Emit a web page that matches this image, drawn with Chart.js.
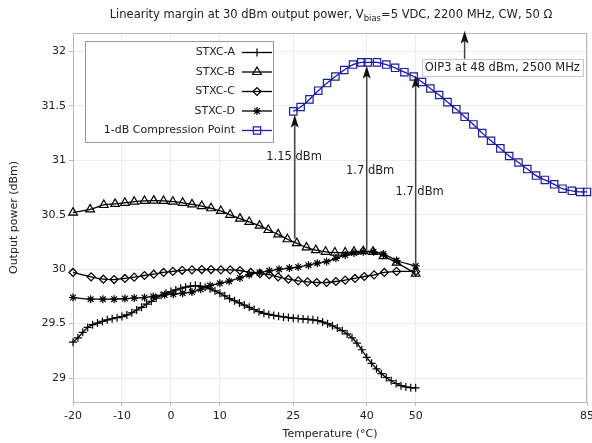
<!DOCTYPE html>
<html>
<head>
<meta charset="utf-8">
<script src="https://cdn.jsdelivr.net/npm/chart.js@4/dist/chart.umd.min.js"></script>
<style>
  html, body { margin: 0; padding: 0; background: #fff; }
</style>
</head>
<body>
<canvas id="chart" width="592" height="443"></canvas>
<script>
// --- Data ---
const xTicks = [-20, -10, 0, 10, 25, 40, 50, 85];
const yTicks = [29, 29.5, 30, 30.5, 31, 31.5, 32];

const tempA = [-20, -19, -18, -17, -16, -15, -14, -13, -12, -11, -10, -9, -8, -7, -6, -5, -4, -3, -2, -1,
    0, 1, 2, 3, 4, 5, 6, 7, 8, 9, 10, 11, 12, 13, 14, 15, 16, 17, 18, 19,
    20, 21, 22, 23, 24, 25, 26, 27, 28, 29, 30, 31, 32, 33, 34, 35, 36, 37, 38, 39,
    40, 41, 42, 43, 44, 45, 46, 47, 48, 49, 50];
const stxcA = [29.33, 29.37, 29.42, 29.465, 29.49, 29.505, 29.52, 29.535, 29.545, 29.555, 29.565, 29.58, 29.6, 29.625, 29.65, 29.68, 29.705, 29.735, 29.76, 29.78,
    29.795, 29.81, 29.825, 29.835, 29.845, 29.85, 29.845, 29.835, 29.82, 29.8, 29.78, 29.755, 29.73, 29.71, 29.69, 29.67, 29.65, 29.63, 29.61, 29.595,
    29.585, 29.575, 29.568, 29.562, 29.556, 29.55, 29.547, 29.543, 29.539, 29.535, 29.528, 29.515, 29.5, 29.48, 29.46, 29.435, 29.405, 29.37, 29.32, 29.26,
    29.19, 29.135, 29.085, 29.04, 29.005, 28.975, 28.95, 28.93, 28.918, 28.912, 28.91];

const tempB = [-20, -16.5, -13.7, -11.4, -9.4, -7.5, -5.4, -3.5, -1.5, 0.4, 2.4, 4.3, 6.3, 8.2, 10.2, 12.1, 14.1,
    16, 18.1, 19.9, 21.9, 23.8, 25.7, 27.7, 29.6, 31.6, 33.5, 35.6, 37.4, 39.3, 41.3, 43.4, 46.1, 50];
const stxcB = [30.52, 30.55, 30.59, 30.6, 30.61, 30.62, 30.627, 30.63, 30.627, 30.62, 30.61, 30.596, 30.58, 30.56, 30.535, 30.5, 30.465,
    30.434, 30.4, 30.36, 30.32, 30.275, 30.24, 30.2, 30.175, 30.16, 30.153, 30.153, 30.16, 30.165, 30.16, 30.12, 30.06, 29.96];

const tempC = [-20, -16.3, -13.8, -11.6, -9.4, -7.5, -5.4, -3.5, -1.5, 0.4, 2.3, 4.3, 6.3, 8.2, 10.2, 12.1, 14.1,
    16.3, 18.2, 20.1, 21.9, 24, 26, 27.9, 29.8, 31.8, 33.7, 35.6, 37.6, 39.5, 41.5, 43.6, 46.1, 50];
const stxcC = [29.97, 29.93, 29.908, 29.905, 29.915, 29.927, 29.942, 29.954, 29.97, 29.98, 29.99, 29.994, 29.997, 29.997, 29.994, 29.994, 29.988,
    29.97, 29.96, 29.95, 29.93, 29.908, 29.893, 29.884, 29.878, 29.878, 29.887, 29.9, 29.915, 29.933, 29.948, 29.97, 29.98, 29.98];

const tempD = [-20, -16.4, -13.9, -11.6, -9.4, -7.5, -5.4, -3.6, -1.3, 0.5, 2.4, 4.3, 6.1, 8, 10, 11.9, 14.1,
    16, 18.1, 20.1, 22.1, 24.2, 26, 28.1, 29.9, 31.8, 33.7, 35.6, 37.4, 39.3, 41.4, 43.4, 46.1, 50];
const stxcD = [29.74, 29.725, 29.725, 29.725, 29.73, 29.735, 29.74, 29.75, 29.765, 29.77, 29.78, 29.79, 29.816, 29.85, 29.87, 29.89, 29.92,
    29.95, 29.97, 29.985, 30, 30.01, 30.02, 30.037, 30.055, 30.07, 30.1, 30.13, 30.15, 30.16, 30.16, 30.14, 30.08, 30.03];

const tempP1 = [25, 26.5, 28.3, 30.1, 31.9, 33.6, 35.4, 37.2, 38.9, 40.2, 42.1, 44, 45.8, 47.7, 49.6, 51.3, 53, 54.8,
    56.5, 58.3, 60, 61.8, 63.6, 65.4, 67.3, 69.1, 71, 72.8, 74.6, 76.4, 78.3, 80, 81.9, 83.6, 85];
const p1dB = [31.45, 31.49, 31.56, 31.64, 31.71, 31.77, 31.83, 31.88, 31.9, 31.9, 31.9, 31.88, 31.85, 31.81, 31.77, 31.72, 31.66, 31.6,
    31.535, 31.47, 31.4, 31.33, 31.25, 31.18, 31.11, 31.04, 30.98, 30.92, 30.86, 30.82, 30.78, 30.74, 30.72, 30.71, 30.71];

// margin arrows: temperature, start, tip, label
const arrowTemps = [25.3, 40, 50];
const arrowFrom = [30.28, 30.18, 30.03];
const arrowTo = [31.42, 31.87, 31.78];
const arrowLabels = ['1.15 dBm', '1.7 dBm', '1.7 dBm'];
const labelTemps = [25.15, 40.7, 50.8];
const labelPower = [31.03, 30.9, 30.71];

const oip3Temp = 60;
const oip3From = 31.93;
const oip3To = 32.19;
const oip3Label = 'OIP3 at 48 dBm, 2500 MHz';
const oip3LabelAt = [67.7, 31.85];

const FONT = '"DejaVu Sans", Verdana, sans-serif';
const BLUE = '#1c1c9c';

function pts(xs, ys) {
    return xs.map((x, i) => ({ x: x, y: ys[i] }));
}

const seriesDefs = [
    { label: 'STXC-A', data: pts(tempA, stxcA), style: 'cross', r: 4, color: '#000' },
    { label: 'STXC-B', data: pts(tempB, stxcB), style: 'triangle', r: 5, color: '#000' },
    { label: 'STXC-C', data: pts(tempC, stxcC), style: 'rectRot', r: 4, color: '#000' },
    { label: 'STXC-D', data: pts(tempD, stxcD), style: 'star', r: 4, color: '#000' },
    { label: '1-dB Compression Point', data: pts(tempP1, p1dB), style: 'rect', r: 5.2, color: BLUE }
];

// --- drawing helpers ---
function arrow(ctx, x, yFrom, yTip) {
    ctx.save();
    ctx.strokeStyle = '#444';
    ctx.lineWidth = 1.5;
    ctx.beginPath();
    ctx.moveTo(x, yFrom);
    ctx.lineTo(x, yTip + 8);
    ctx.stroke();
    ctx.fillStyle = '#111';
    ctx.beginPath();
    ctx.moveTo(x, yTip);
    ctx.lineTo(x - 4, yTip + 13);
    ctx.lineTo(x, yTip + 10);
    ctx.lineTo(x + 4, yTip + 13);
    ctx.closePath();
    ctx.fill();
    ctx.restore();
}

const decorPlugin = {
    id: 'decor',
    beforeDatasetsDraw(chart) {
        const { ctx, chartArea: a } = chart;
        ctx.save();
        ctx.strokeStyle = '#b8b8b8';
        ctx.lineWidth = 1;
        ctx.strokeRect(a.left + 0.5, a.top + 0.5, a.right - a.left - 1, a.bottom - a.top);
        ctx.restore();
    },
    afterDatasetsDraw(chart) {
        const { ctx, chartArea: a } = chart;
        const xs = chart.scales.x, ys = chart.scales.y;

        // title with subscript
        ctx.save();
        ctx.fillStyle = '#222';
        ctx.textBaseline = 'alphabetic';
        const p1 = 'Linearity margin at 30 dBm output power, V';
        const sub = 'bias';
        const p2 = '=5 VDC, 2200 MHz, CW, 50 \u03A9';
        ctx.font = '11.5px ' + FONT;
        const w1 = ctx.measureText(p1).width, w3 = ctx.measureText(p2).width;
        ctx.font = '8.5px ' + FONT;
        const w2 = ctx.measureText(sub).width;
        let tx = 331 - (w1 + w2 + w3) / 2;
        const ty = 18;
        ctx.font = '11.5px ' + FONT;
        ctx.fillText(p1, tx, ty);
        ctx.font = '8.5px ' + FONT;
        ctx.fillText(sub, tx + w1, ty + 3);
        ctx.font = '11.5px ' + FONT;
        ctx.fillText(p2, tx + w1 + w2, ty);

        // axis titles
        ctx.font = '11px ' + FONT;
        ctx.textAlign = 'center';
        ctx.textBaseline = 'middle';
        ctx.fillText('Temperature (\u00B0C)', (a.left + a.right) / 2, 434);
        ctx.translate(14, (a.top + a.bottom) / 2);
        ctx.rotate(-Math.PI / 2);
        ctx.fillText('Output power (dBm)', 0, 0);
        ctx.restore();

        // margin arrows
        arrowTemps.forEach((t, i) => {
            arrow(ctx, xs.getPixelForValue(t), ys.getPixelForValue(arrowFrom[i]), ys.getPixelForValue(arrowTo[i]));
        });
        ctx.save();
        ctx.font = '11.5px ' + FONT;
        ctx.fillStyle = '#222';
        ctx.textAlign = 'center';
        ctx.textBaseline = 'middle';
        arrowLabels.forEach((s, i) => {
            ctx.fillText(s, xs.getPixelForValue(labelTemps[i]), ys.getPixelForValue(labelPower[i]));
        });
        ctx.restore();

        // OIP3 arrow and boxed label
        arrow(ctx, xs.getPixelForValue(oip3Temp), ys.getPixelForValue(oip3From), ys.getPixelForValue(oip3To));
        ctx.save();
        ctx.font = '11.5px ' + FONT;
        const lx = xs.getPixelForValue(oip3LabelAt[0]), ly = ys.getPixelForValue(oip3LabelAt[1]);
        const lw = ctx.measureText(oip3Label).width + 6;
        ctx.fillStyle = '#fff';
        ctx.fillRect(lx - lw / 2, ly - 9, lw, 17);
        ctx.strokeStyle = '#c8c8c8';
        ctx.strokeRect(Math.round(lx - lw / 2) + 0.5, Math.round(ly - 9) + 0.5, Math.round(lw), 17);
        ctx.fillStyle = '#222';
        ctx.textAlign = 'center';
        ctx.textBaseline = 'middle';
        ctx.fillText(oip3Label, lx, ly);
        ctx.restore();

        // legend box
        ctx.save();
        ctx.fillStyle = '#fff';
        ctx.fillRect(85, 41, 188, 102);
        ctx.strokeStyle = '#999';
        ctx.lineWidth = 1;
        ctx.strokeRect(85.5, 41.5, 188, 101);
        ctx.font = '11px ' + FONT;
        ctx.textAlign = 'right';
        ctx.textBaseline = 'middle';
        seriesDefs.forEach((s, i) => {
            const y = 52.5 + i * 19.5;
            ctx.fillStyle = '#222';
            ctx.fillText(s.label, 235, y);
            ctx.strokeStyle = s.color;
            ctx.lineWidth = 1.3;
            ctx.beginPath();
            ctx.moveTo(242, y);
            ctx.lineTo(272, y);
            ctx.stroke();
            ctx.fillStyle = 'rgba(0,0,0,0)';
            ctx.lineWidth = 1.2;
            Chart.helpers.drawPoint(ctx, {
                pointStyle: s.style, radius: s.r, rotation: 0, borderWidth: 1.2
            }, 257, y);
        });
        ctx.restore();
    }
};

const chart = new Chart(document.getElementById('chart'), {
    type: 'line',
    data: {
        datasets: seriesDefs.map(s => ({
            label: s.label,
            data: s.data,
            borderColor: s.color,
            backgroundColor: 'rgba(0,0,0,0)',
            borderWidth: 1.3,
            pointStyle: s.style,
            pointRadius: s.r,
            pointBorderColor: s.color,
            pointBackgroundColor: 'rgba(0,0,0,0)',
            pointBorderWidth: 1.2,
            tension: 0.3,
            clip: 8
        }))
    },
    options: {
        responsive: false,
        animation: false,
        events: [],
        layout: { autoPadding: false, padding: { top: 33, right: 5, left: 0, bottom: 0 } },
        plugins: { legend: { display: false }, tooltip: { enabled: false } },
        scales: {
            x: {
                type: 'linear',
                min: -20,
                max: 85,
                afterFit: s => { s.height = 41; s.paddingLeft = 0; s.paddingRight = 0; },
                afterBuildTicks: s => { s.ticks = xTicks.map(v => ({ value: v })); },
                grid: { color: '#ececec', tickLength: 4, tickColor: '#bbb' },
                border: { display: false },
                ticks: { font: { family: FONT, size: 11 }, color: '#222', padding: 4, maxRotation: 0 }
            },
            y: {
                type: 'linear',
                min: 28.78,
                max: 32.17,
                afterFit: s => { s.width = 73; s.paddingTop = 0; s.paddingBottom = 0; },
                afterBuildTicks: s => { s.ticks = yTicks.map(v => ({ value: v })); },
                grid: { color: '#ececec', tickLength: 4, tickColor: '#bbb' },
                border: { display: false },
                ticks: { font: { family: FONT, size: 11 }, color: '#222', padding: 3, callback: v => String(v) }
            }
        }
    },
    plugins: [decorPlugin]
});
</script>
</body>
</html>
